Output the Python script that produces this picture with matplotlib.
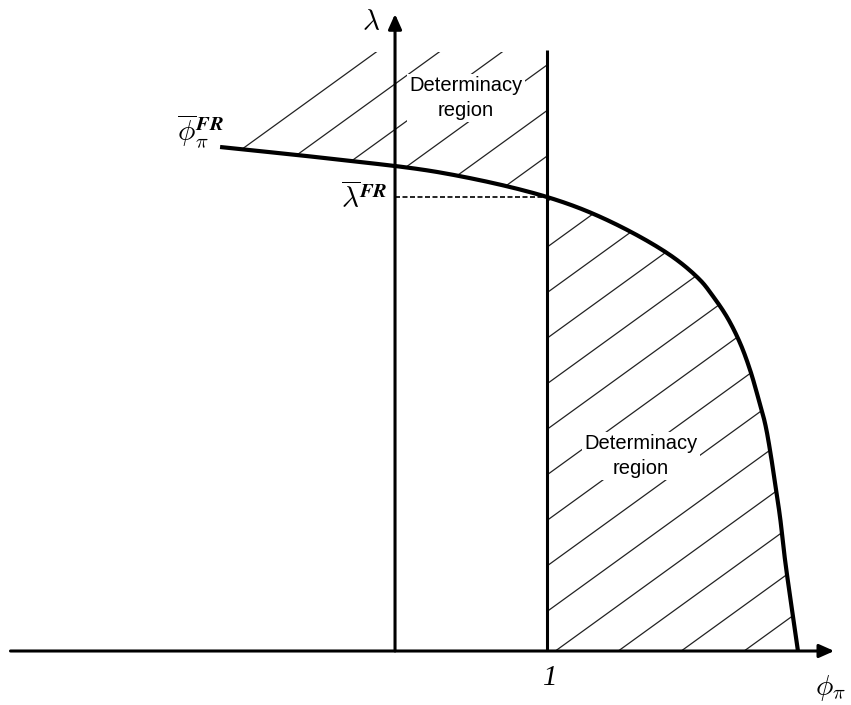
import numpy as np
import matplotlib
matplotlib.use("Agg")
import matplotlib.pyplot as plt
from matplotlib.patches import Polygon
from matplotlib.collections import LineCollection

plt.rcParams['mathtext.fontset'] = 'cm'

# Boundary curve (phi_pi, lambda)
curve_phi = [-1.151, -0.408, 0.316, 1.0, 1.395, 1.809, 2.007, 2.086, 2.184,
             2.270, 2.336, 2.388, 2.434, 2.467, 2.500, 2.533, 2.566, 2.612,
             2.651]
curve_lam = [5.04, 4.92, 4.78, 4.54, 4.31, 3.96, 3.71, 3.56, 3.34,
             3.08, 2.81, 2.54, 2.28, 2.01, 1.68, 1.34, 0.91, 0.41,
             0.0]
phi_one = 1.0
lam_bar = 4.54
region_top = 5.99
x_axis_range = [-2.53, 2.89]
y_axis_top = 6.37

fig = plt.figure(figsize=(8.51, 7.05), dpi=100)
ax = fig.add_axes([0, 0, 1, 1])
ax.set_xlim(-2.599, 3.0)
ax.set_ylim(-0.54, 6.51)
ax.axis('off')

cphi = np.array(curve_phi)
clam = np.array(curve_lam)


def smooth_path(xs, ys, sx=152.0, sy=100.0, n=20):
    """Centripetal Catmull-Rom rendering through the read points."""
    P = np.column_stack([xs * sx, ys * sy])
    P = np.vstack([2 * P[0] - P[1], P, 2 * P[-1] - P[-2]])
    out = []
    for i in range(1, len(P) - 2):
        p0, p1, p2, p3 = P[i - 1], P[i], P[i + 1], P[i + 2]
        t0 = 0.0
        t1 = t0 + np.linalg.norm(p1 - p0) ** 0.5
        t2 = t1 + np.linalg.norm(p2 - p1) ** 0.5
        t3 = t2 + np.linalg.norm(p3 - p2) ** 0.5
        t = np.linspace(t1, t2, n, endpoint=False)[:, None]
        a1 = (t1 - t) / (t1 - t0) * p0 + (t - t0) / (t1 - t0) * p1
        a2 = (t2 - t) / (t2 - t1) * p1 + (t - t1) / (t2 - t1) * p2
        a3 = (t3 - t) / (t3 - t2) * p2 + (t - t2) / (t3 - t2) * p3
        b1 = (t2 - t) / (t2 - t0) * a1 + (t - t0) / (t2 - t0) * a2
        b2 = (t3 - t) / (t3 - t1) * a2 + (t - t1) / (t3 - t1) * a3
        c = (t2 - t) / (t2 - t1) * b1 + (t - t1) / (t2 - t1) * b2
        out.append(c)
    out.append(P[-2][None, :])
    out = np.vstack(out)
    return out[:, 0] / sx, out[:, 1] / sy


sphi, slam = smooth_path(cphi, clam)

# hatch style
slope = 1.10
spacing = 0.414
phase = 1.055

# lower region: right of phi=1, under the curve
low_mask = sphi >= phi_one
low_poly = np.vstack([[phi_one, 0.0],
                      np.column_stack([sphi[low_mask], slam[low_mask]]),
                      [sphi[-1], 0.0]])
# upper region: above the curve, left edge parallel to the hatch
phi_a = -1.10
lam_a = np.interp(phi_a, sphi, slam)
phi_b = phi_a + (region_top - lam_a) / slope
up_mask = (sphi > phi_a) & (sphi <= phi_one)
up_poly = np.vstack([[phi_a, lam_a],
                     np.column_stack([sphi[up_mask], slam[up_mask]]),
                     [phi_one, region_top],
                     [phi_b, region_top]])

phi0s = phase + spacing * np.arange(-25, 10)
for poly in (low_poly, up_poly):
    patch = Polygon(poly, closed=True, facecolor='none', edgecolor='none')
    ax.add_patch(patch)
    segs = [[(p - 10, -slope * 10), (p + 10, slope * 10)] for p in phi0s]
    lc = LineCollection(segs, colors='#222222', linewidths=0.9, zorder=1)
    lc.set_clip_path(patch)
    ax.add_collection(lc)

# axes lines
arrow = dict(arrowstyle='-|>,head_length=0.9,head_width=0.4',
             lw=2.2, color='black', shrinkA=0, shrinkB=0)
ax.annotate('', xy=(x_axis_range[1], 0), xytext=(x_axis_range[0], 0),
            arrowprops=arrow, zorder=3)
ax.annotate('', xy=(0, y_axis_top), xytext=(0, 0),
            arrowprops=arrow, zorder=3)
ax.plot([phi_one, phi_one], [0, region_top + 0.02], color='black', lw=2.2,
        zorder=3, solid_capstyle='butt')

# curve
ax.plot(sphi, slam, color='black', lw=3.0, zorder=4,
        solid_capstyle='butt', solid_joinstyle='round')

# dashed line
ax.plot([0, phi_one], [lam_bar, lam_bar], color='black', lw=1.2,
        linestyle=(0, (3, 1.5)), zorder=3)

# region labels
box = dict(facecolor='white', edgecolor='none', pad=2)
ax.text(0.467, 5.53, 'Determinacy\nregion', ha='center', va='center',
        fontsize=14.5, family='Liberation Sans', linespacing=1.35,
        bbox=box, zorder=2)
ax.text(1.618, 1.95, 'Determinacy\nregion', ha='center', va='center',
        fontsize=14.5, family='Liberation Sans', linespacing=1.35,
        bbox=box, zorder=2)

# math labels
ax.text(-0.16, 6.29, r'$\lambda$', ha='center', va='center', fontsize=21)
ax.text(2.862, -0.37, r'$\phi_\pi$', ha='center', va='center', fontsize=21)
ax.text(1.02, -0.27, '1', ha='center', va='center', fontsize=21,
        family='Liberation Serif', style='italic')
ax.text(-1.28, 5.19, r'$\overline{\phi}_\pi^{\mathbfit{FR}}$', ha='center',
        va='center', fontsize=21)
ax.text(-0.20, 4.52, r'$\overline{\lambda}^{\mathbfit{FR}}$', ha='center',
        va='center', fontsize=21)

fig.savefig('out.png', dpi=100)
